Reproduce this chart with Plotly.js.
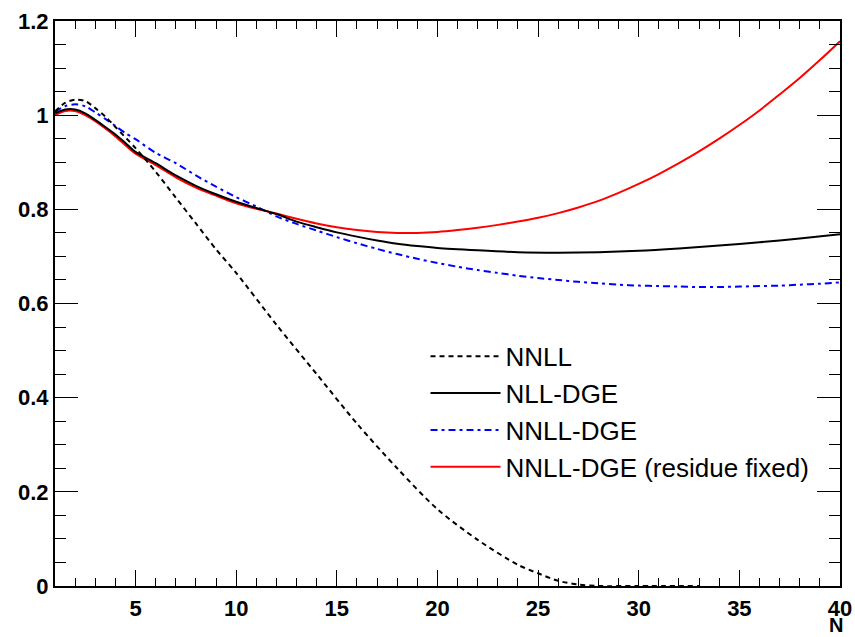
<!DOCTYPE html>
<html>
<head>
<meta charset="utf-8">
<script src="https://cdn.plot.ly/plotly-3.0.1.min.js"></script>
<style>html,body{margin:0;padding:0;background:#fff;}#chart{width:855px;height:637px;}</style>
</head>
<body>
<div id="chart"></div>
<script>
// NNLL (dashed black)
var nnllX = [1, 1.5, 2, 2.5, 3, 3.5, 4, 5, 6, 7, 8, 9, 10, 12, 14, 16, 18, 20, 22, 24, 25, 26, 27, 28, 30, 33];
var nnllY = [1.008, 1.026, 1.033, 1.03, 1.015, 0.997, 0.975, 0.93, 0.88, 0.825, 0.77, 0.715, 0.665, 0.555, 0.45, 0.345, 0.25, 0.163, 0.098, 0.045, 0.027, 0.011, 0.003, 0.0, 0.0, 0.0];

// NLL-DGE (solid black)
var nllX = [1, 1.5, 2, 2.5, 3, 3.5, 4, 4.5, 5, 6, 7, 8, 9, 10, 11, 12, 13, 14, 15, 16, 17, 18, 19, 20, 22, 24, 26, 28, 30, 32, 34, 36, 38, 40];
var nllY = [1.004, 1.012, 1.012, 1.004, 0.990, 0.975, 0.959, 0.941, 0.922, 0.898, 0.872, 0.850, 0.832, 0.816, 0.803, 0.790, 0.774, 0.762, 0.751, 0.742, 0.734, 0.727, 0.722, 0.718, 0.713, 0.709, 0.708, 0.709, 0.712, 0.717, 0.723, 0.730, 0.738, 0.747];

// NNLL-DGE (blue dash-dot)
var dgeX = [1, 1.5, 2, 2.5, 3, 3.5, 4, 4.5, 5, 6, 7, 8, 9, 10, 11, 12, 13, 14, 15, 16, 17, 18, 19, 20, 21, 22, 23, 24, 25, 26, 27, 28, 29, 30, 31, 32, 33, 34, 35, 36, 37, 38, 39, 40];
var dgeY = [1.007, 1.019, 1.023, 1.019, 1.006, 0.992, 0.977, 0.962, 0.949, 0.920, 0.898, 0.872, 0.848, 0.826, 0.806, 0.785, 0.769, 0.755, 0.741, 0.728, 0.716, 0.705, 0.695, 0.686, 0.678, 0.671, 0.665, 0.659, 0.654, 0.650, 0.646, 0.643, 0.640, 0.638, 0.637, 0.636, 0.635, 0.635, 0.636, 0.637, 0.638, 0.640, 0.642, 0.645];

// NNLL-DGE (residue fixed) (red)
var resX = [1, 1.5, 2, 2.5, 3, 4, 5, 6, 7, 8, 9, 10, 11, 12, 13, 14, 15, 16, 17, 18, 19, 20, 21, 22, 23, 24, 25, 26, 27, 28, 29, 30, 31, 32, 33, 34, 35, 36, 37, 38, 39, 40];
var resY = [1.0, 1.009, 1.009, 1.0, 0.987, 0.955, 0.918, 0.894, 0.868, 0.846, 0.829, 0.813, 0.801, 0.791, 0.780, 0.770, 0.762, 0.756, 0.752, 0.750, 0.750, 0.752, 0.756, 0.761, 0.767, 0.774, 0.782, 0.792, 0.804, 0.818, 0.835, 0.854, 0.875, 0.898, 0.923, 0.950, 0.979, 1.010, 1.044, 1.079, 1.117, 1.157];

var names = ['NNLL', 'NLL-DGE', 'NNLL-DGE', 'NNLL-DGE (residue fixed)'];

var traces = [
  {x: resX, y: resY, name: names[3], mode: 'lines', line: {color: '#ff0000', width: 2, shape: 'spline', smoothing: 0.8}, legendrank: 4},
  {x: dgeX, y: dgeY, name: names[2], mode: 'lines', line: {color: '#0000ff', width: 2, dash: '7px,4px,3px,4px', shape: 'spline', smoothing: 0.8}, legendrank: 3},
  {x: nllX, y: nllY, name: names[1], mode: 'lines', line: {color: '#000000', width: 2, shape: 'spline', smoothing: 0.8}, legendrank: 2},
  {x: nnllX, y: nnllY, name: names[0], mode: 'lines', line: {color: '#000000', width: 2, dash: '5px,4px', shape: 'spline', smoothing: 0.8}, legendrank: 1}
];

var tickFont = {family: 'Liberation Sans, Arial, sans-serif', size: 22, color: '#000', weight: 'bold'};

var layout = {
  width: 855, height: 637,
  margin: {l: 55, r: 15, t: 21, b: 51},
  paper_bgcolor: '#fff', plot_bgcolor: '#fff',
  showlegend: true,
  legend: {
    x: 0.472, y: 0.448, xanchor: 'left', yanchor: 'top',
    bgcolor: 'rgba(0,0,0,0)', borderwidth: 0,
    font: {family: 'Liberation Sans, Arial, sans-serif', size: 26, color: '#000'},
    itemwidth: 70, traceorder: 'normal'
  },
  xaxis: {
    range: [1, 40], tick0: 0, dtick: 5,
    ticks: 'inside', ticklen: 16, tickwidth: 1, tickcolor: '#000',
    minor: {dtick: 1, ticks: 'inside', ticklen: 8, tickwidth: 1, tickcolor: '#000', showgrid: false},
    showline: true, linecolor: '#000', linewidth: 2, mirror: 'ticks',
    showgrid: false, zeroline: false,
    tickfont: tickFont, ticklabelstandoff: 2
  },
  yaxis: {
    range: [0, 1.2], tick0: 0, dtick: 0.2,
    ticks: 'inside', ticklen: 23, tickwidth: 1, tickcolor: '#000',
    minor: {dtick: 0.05, ticks: 'inside', ticklen: 11, tickwidth: 1, tickcolor: '#000', showgrid: false},
    showline: true, linecolor: '#000', linewidth: 2, mirror: 'ticks',
    showgrid: false, zeroline: false,
    tickfont: tickFont
  },
  annotations: [{
    text: 'N', xref: 'paper', yref: 'paper', x: 0.9943, y: -0.0903,
    xanchor: 'center', yanchor: 'bottom', showarrow: false, borderpad: 0,
    font: {family: 'Liberation Sans, Arial, sans-serif', size: 20, color: '#000', weight: 'bold'}
  }]
};

Plotly.newPlot('chart', traces, layout, {displayModeBar: false, staticPlot: true});
</script>
</body>
</html>
